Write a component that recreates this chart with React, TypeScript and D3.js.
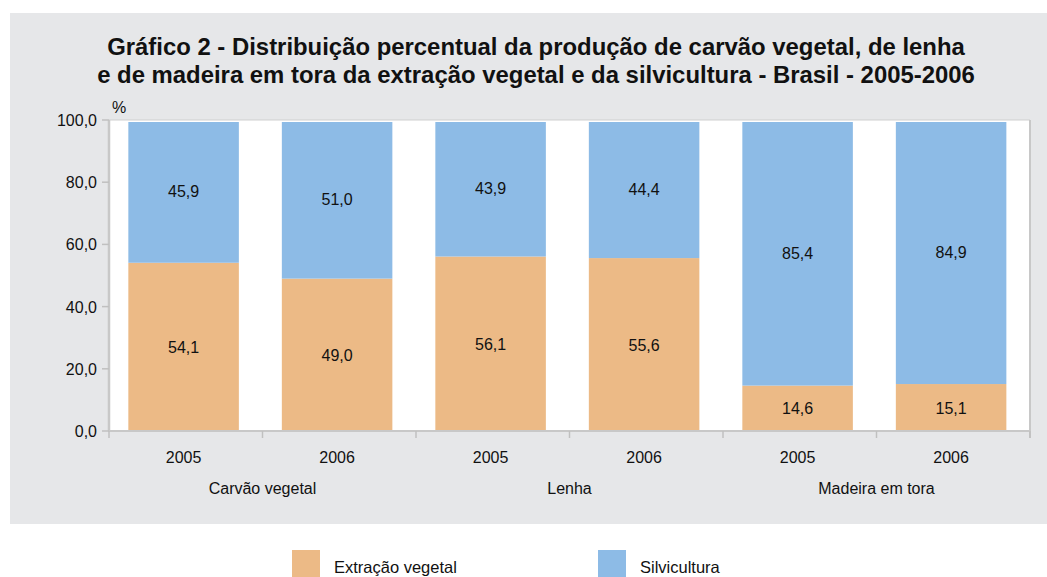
import React from "react";
import * as d3 from "d3";

const groups = ["Carvão vegetal", "Lenha", "Madeira em tora"];
const years = ["2005", "2006", "2005", "2006", "2005", "2006"];
const extracao = [54.1, 49.0, 56.1, 55.6, 14.6, 15.1];
const silvicultura = [45.9, 51.0, 43.9, 44.4, 85.4, 84.9];
const yTicks = [0, 20, 40, 60, 80, 100];
const seriesNames = ["Extração vegetal", "Silvicultura"];
const titleLines = [
  "Gráfico 2 - Distribuição percentual da produção de carvão vegetal, de lenha",
  "e de madeira em tora da extração vegetal e da silvicultura - Brasil - 2005-2006",
];

const W = 1047;
const H = 577;
const colors = ["#ECBA86", "#8DBBE6"];
const FONT = "'Liberation Sans', Arial, sans-serif";

export default function App() {
  const left = 109, right = 1030, top = 120, bottom = 431;
  const idx = years.map((_, i) => String(i));
  const x = d3.scaleBand().domain(idx).range([left, right]).paddingInner(0.28).paddingOuter(0.14).align(0.45);
  const step = (right - left) / years.length;
  const y = d3.scaleLinear().domain([0, 100]).range([bottom, top]);
  const fmt = (v: number) => v.toFixed(1).replace(".", ",");

  const rows = years.map((yr, i) => ({ i: String(i), ext: extracao[i], sil: silvicultura[i] }));
  const stack = d3.stack<any>().keys(["ext", "sil"])(rows as any);

  return (
    <svg width={W} height={H} style={{ display: "block", position: "absolute", left: 0, top: 0 }} fontFamily={FONT}>
      <rect x={0} y={0} width={W} height={H} fill="#fff" />
      <rect x={10} y={13} width={W - 10} height={511} fill="#E6E7E9" />
      {titleLines.map((t, k) => (
        <text key={k} x={536} y={55 + k * 28} textAnchor="middle" fontSize={23.9} fontWeight="bold" fill="#111">
          {t}
        </text>
      ))}
      <rect x={left} y={top} width={right - left} height={bottom - top} fill="#fff" />
      <line x1={left} x2={right} y1={top} y2={top} stroke="#cfcfcf" strokeWidth={1} />
      <line x1={right} x2={right} y1={top} y2={bottom + 7} stroke="#c8c8c8" strokeWidth={2} />
      {stack.map((s, si) =>
        s.map((d: any, j: number) => {
          const y1 = Math.max(y(d[1]), top + 2);
          const y0 = Math.min(y(d[0]), bottom - 1);
          const bx = x(d.data.i)!;
          const v = si === 0 ? extracao[j] : silvicultura[j];
          return (
            <g key={si + "-" + j}>
              <rect x={bx} y={y1} width={x.bandwidth()} height={y0 - y1} fill={colors[si]} />
              <text x={bx + x.bandwidth() / 2} y={(y(d[0]) + y(d[1])) / 2 + 6} textAnchor="middle" fontSize={16} fill="#111">
                {fmt(v)}
              </text>
            </g>
          );
        })
      )}
      <line x1={left} x2={left} y1={top} y2={bottom} stroke="#c8c8c8" strokeWidth={2.5} />
      <line x1={left - 1} x2={right + 1} y1={bottom} y2={bottom} stroke="#c8c8c8" strokeWidth={2} />
      {yTicks.map((t) => (
        <g key={t}>
          <line x1={left - 7} x2={left} y1={y(t)} y2={y(t)} stroke="#c0c0c0" strokeWidth={1.5} />
          <text x={97} y={y(t) + 6} textAnchor="end" fontSize={16} fill="#111">
            {fmt(t)}
          </text>
        </g>
      ))}
      <text x={112} y={113} fontSize={16} fill="#111">%</text>
      {d3.range(years.length + 1).map((k) => (
        <line key={k} x1={left + k * step} x2={left + k * step} y1={bottom} y2={bottom + 7} stroke="#c0c0c0" strokeWidth={1.5} />
      ))}
      {years.map((yr, i) => (
        <text key={i} x={x(String(i))! + x.bandwidth() / 2} y={463} textAnchor="middle" fontSize={16} fill="#111">
          {yr}
        </text>
      ))}
      {groups.map((g, k) => (
        <text key={g} x={left + (2 * k + 1) * step} y={494} textAnchor="middle" fontSize={16} fill="#111">
          {g}
        </text>
      ))}
      {seriesNames.map((n, k) => {
        const lx = [292, 598][k];
        return (
          <g key={n}>
            <rect x={lx} y={550} width={28} height={28} fill={colors[k]} />
            <text x={lx + 42} y={573} fontSize={16.5} fill="#111">{n}</text>
          </g>
        );
      })}
    </svg>
  );
}
